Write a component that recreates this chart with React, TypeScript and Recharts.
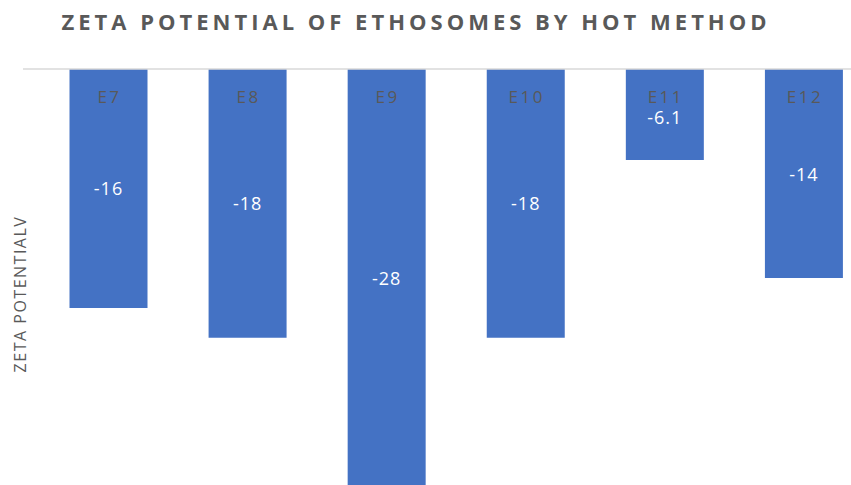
import { BarChart, Bar, XAxis, YAxis, ReferenceLine, LabelList } from "recharts";

const categories = ["E7", "E8", "E9", "E10", "E11", "E12"];
const zetaValues = [-16, -18, -28, -18, -6.1, -14];

const data = categories.map((name, i) => ({ name, zeta: zetaValues[i] }));

const GRAY = "#595959";

function renderCategory(props: any) {
  const { x, y, width, height, value } = props;
  const top = Math.min(y, y + height);
  return (
    <text
      x={x + width / 2 + 1}
      y={top + 27}
      textAnchor="middle"
      dominantBaseline="central"
      fill={GRAY}
      fontSize={17}
      letterSpacing={2.5}
      fontFamily="'Open Sans', sans-serif"
    >
      {value}
    </text>
  );
}

function renderValue(props: any) {
  const { x, y, width, height, value } = props;
  const top = Math.min(y, y + height);
  const h = Math.abs(height);
  const cy = value > -8 ? top + h / 2 + 2 : top + h / 2;
  return (
    <text
      x={x + width / 2}
      y={cy}
      textAnchor="middle"
      dominantBaseline="central"
      fill="#ffffff"
      fontSize={18}
      letterSpacing={1}
      fontFamily="'Open Sans', sans-serif"
    >
      {value}
    </text>
  );
}

function renderYLabel(props: any) {
  const vb = props.viewBox || { x: 0, y: 69, width: 23, height: 416 };
  const cx = vb.x + 20;
  const cy = vb.y + vb.height / 2 + 17;
  return (
    <text
      x={cx}
      y={cy}
      transform={`rotate(-90, ${cx}, ${cy})`}
      textAnchor="middle"
      dominantBaseline="central"
      fill={GRAY}
      fontSize={16}
      letterSpacing={1.5}
      fontFamily="'Open Sans', sans-serif"
    >
      ZETA POTENTIALV
    </text>
  );
}

export default function App() {
  return (
    <div
      style={{
        position: "absolute",
        left: 0,
        top: 0,
        width: 851,
        height: 485,
        overflow: "hidden",
        background: "#fff",
      }}
    >
      <BarChart
        width={873}
        height={485}
        data={data}
        margin={{ top: 69, right: 0, bottom: 0, left: 0 }}
      >
        <text
          x={416}
          y={21}
          textAnchor="middle"
          dominantBaseline="central"
          fill={GRAY}
          fontSize={22}
          fontWeight="bold"
          letterSpacing={4}
          fontFamily="'Open Sans', sans-serif"
        >
          ZETA POTENTIAL OF ETHOSOMES BY HOT METHOD
        </text>
        <XAxis
          dataKey="name"
          hide
          padding={{ left: 15.5, right: 0 }}
        />
        <YAxis
          width={23}
          domain={[-27.86, 0]}
          allowDataOverflow
          tick={false}
          axisLine={false}
          tickLine={false}
          label={renderYLabel}
        />
        <ReferenceLine y={0} stroke="#d9d9d9" strokeWidth={1.5} />
        <Bar dataKey="zeta" fill="#4472C4" barSize={78} isAnimationActive={false}>
          <LabelList dataKey="name" content={renderCategory} />
          <LabelList dataKey="zeta" content={renderValue} />
        </Bar>
      </BarChart>
    </div>
  );
}
